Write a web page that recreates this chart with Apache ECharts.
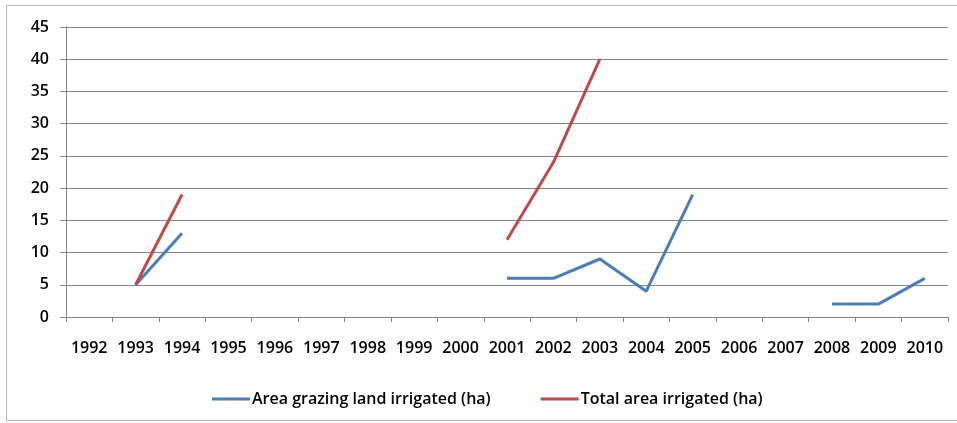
<!DOCTYPE html>
<html>
<head>
<meta charset="utf-8">
<script src="https://cdn.jsdelivr.net/npm/echarts@6/dist/echarts.min.js"></script>
<style>
html, body { margin: 0; padding: 0; background: #fff; overflow: hidden; }
#frame { position: absolute; left: 6px; top: 5px; width: 960px; height: 416px; border: 1px solid #b8b8b8; box-sizing: border-box; }
#chart { position: absolute; left: 0; top: 0; width: 957px; height: 423px; }
</style>
</head>
<body>
<div id="frame"></div>
<div id="chart"></div>
<script>
var years = ['1992','1993','1994','1995','1996','1997','1998','1999','2000','2001','2002','2003','2004','2005','2006','2007','2008','2009','2010'];
var grazing = [null, 5, 13, null, null, null, null, null, null, 6, 6, 9, 4, 19, null, null, 2, 2, 6];
var totalIrrigated = [null, 5, 19, null, null, null, null, null, null, 12, 24, 40, null, null, null, null, null, null, null];
var seriesNames = ['Area grazing land irrigated (ha)', 'Total area irrigated (ha)'];

var font = '"Open Sans", Lato, sans-serif';
var chart = echarts.init(document.getElementById('chart'), null, { renderer: 'canvas' });
chart.setOption({
	animation: false,
	backgroundColor: 'transparent',
	grid: { left: 66, right: 9, top: 27, bottom: 106 },
	legend: {
		bottom: 16,
		left: 212,
		padding: 0,
		itemWidth: 38,
		itemHeight: 3,
		itemGap: 50,
		icon: 'rect',
		textStyle: { fontFamily: font, fontSize: 16, fontWeight: 600, color: '#000', padding: [0, 0, 0, -3] },
		data: seriesNames
	},
	xAxis: {
		type: 'category',
		data: years,
		boundaryGap: true,
		axisLine: { lineStyle: { color: '#868686' } },
		axisTick: { show: true, length: 5, lineStyle: { color: '#868686' } },
		axisLabel: { fontFamily: font, fontSize: 16, fontWeight: 600, color: '#000', margin: 23, interval: 0 }
	},
	yAxis: {
		type: 'value',
		min: 0,
		max: 45,
		interval: 5,
		axisLine: { show: true, lineStyle: { color: '#868686' } },
		axisTick: { show: true, length: 6, lineStyle: { color: '#868686' } },
		axisLabel: { fontFamily: font, fontSize: 16, fontWeight: 600, color: '#000', margin: 17 },
		splitLine: { lineStyle: { color: '#868686', width: 1 } }
	},
	series: [
		{
			name: seriesNames[0],
			type: 'line',
			data: grazing,
			connectNulls: false,
			showSymbol: false,
			symbol: 'none',
			color: '#4A7EBB',
			lineStyle: { width: 3, color: '#4A7EBB' }
		},
		{
			name: seriesNames[1],
			type: 'line',
			data: totalIrrigated,
			connectNulls: false,
			showSymbol: false,
			symbol: 'none',
			color: '#BE4B48',
			lineStyle: { width: 3, color: '#BE4B48' }
		}
	]
});
</script>
</body>
</html>
